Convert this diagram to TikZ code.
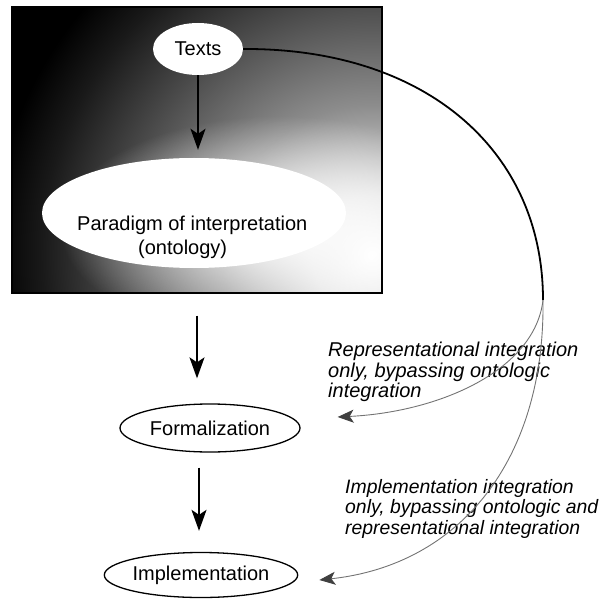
\documentclass[tikz,border=0pt]{standalone}
\usepackage{fontspec}
\setmainfont{Liberation Sans}
\usetikzlibrary{arrows.meta,shapes.geometric,calc,fadings}

% dark-to-light glow used inside the framed panel
\pgfdeclareradialshading{panelglow}{\pgfpoint{0bp}{0bp}}{%
  color(0bp)=(white); color(3bp)=(white!88!black); color(7.5bp)=(black!45);
  color(12.5bp)=(black!70); color(16.5bp)=(black!90); color(19bp)=(black);
  color(50bp)=(black)}
% soft white halo around the large oval
\tikzfading[name=softhalo, inner color=transparent!0, outer color=transparent!100]

\begin{document}
\begin{tikzpicture}[x=1pt,y=-1pt,
  every node/.style={font=\fontsize{20}{20.5}\selectfont},
  oval/.style={ellipse, draw, line width=1.3pt, fill=white, inner sep=0pt},
  plainoval/.style={ellipse, fill=white, inner sep=0pt},
  downarrow/.style={-{Stealth[length=21pt,width=15pt,inset=5pt]}, line width=1.6pt},
  mainpath/.style={line width=1.8pt},
  bypass/.style={draw=black!55, line width=0.9pt,
    -{Stealth[length=16pt,width=13pt,inset=4pt,color=black!75,fill=black!75]}},
  note/.style={font=\fontsize{20}{20.5}\selectfont\itshape, align=left,
    anchor=north west, inner sep=0pt}
]
\useasboundingbox (0,0) rectangle (609,609);

% shaded panel with a soft light patch towards the lower right
\begin{scope}
  \clip (12,7) rectangle (382,293);
  \shade[shading=panelglow] (372,255) circle (500pt);
  \fill[white, path fading=softhalo] (280,228) ellipse [x radius=220, y radius=112];
\end{scope}
\node[draw, line width=1.4pt, inner sep=0pt, minimum width=370pt,
      minimum height=286pt] (frame) at (197,150) {};

% nodes
\node[plainoval, minimum width=90pt, minimum height=52pt] (texts) at (198,49) {Texts};
\node[plainoval, minimum width=304pt, minimum height=110pt] (paradigm) at (194,213) {};
\node[anchor=north west, align=left, inner sep=0pt] (paradigmtext) at (77,216)
  {Paradigm of interpretation\\[3pt]\hspace*{61pt}(ontology)};
\node[oval, minimum width=180pt, minimum height=48pt] (form) at (210,428) {Formalization};
\node[oval, minimum width=192pt, minimum height=45pt] (impl) at (201,575) {Implementation};

\node[note] (replabel) at (328,342)
  {Representational integration\\only, bypassing ontologic\\integration};
\node[note, font=\fontsize{19.4}{20.5}\selectfont\itshape] (impllabel) at (345,479)
  {Implementation integration\\only, bypassing ontologic and\\representational integration};

% vertical flow
\draw[downarrow, shorten >=8pt] (texts.south) -- (texts.south |- paradigm.north);
\draw[downarrow, shorten <=22pt, shorten >=25pt] (frame.south) -- (frame.south |- form.north);
\draw[downarrow, shorten <=15pt, shorten >=21pt] ([xshift=-11pt]form.south) -- ([xshift=-11pt]form.south |- impl.north);

% bypassing links
\coordinate (split) at (543,300);
\draw[mainpath] (texts.east) .. controls (425,48) and (543,150) .. (split);
\draw[bypass] (split) .. controls (535,370) and (440,412) .. ([xshift=37pt,yshift=11pt]form.east);
\draw[bypass] (split) .. controls (545,460) and (460,565) .. ([xshift=21pt,yshift=-5pt]impl.east);
\end{tikzpicture}
\end{document}
